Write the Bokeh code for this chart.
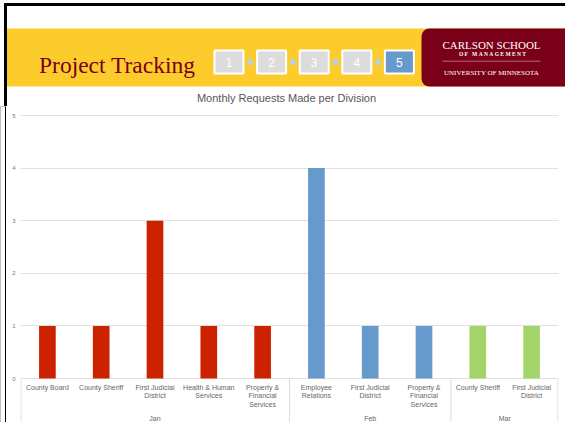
from bokeh.plotting import figure
from bokeh.models import FactorRange, Range1d, FixedTicker, ColumnDataSource, BoxAnnotation
from bokeh.layouts import column, row
from bokeh.core.properties import value
from bokeh.embed import file_html
from bokeh.resources import INLINE

# ---------------- data ----------------
months = ["Jan", "Jan", "Jan", "Jan", "Jan", "Feb", "Feb", "Feb", "Mar", "Mar"]
divisions = ["County Board", "County Sheriff", "First Judicial District",
             "Health & Human Services", "Property & Financial Services",
             "Employee Relations", "First Judicial District",
             "Property & Financial Services", "County Sheriff",
             "First Judicial District"]
tick_labels = ["County Board", "County Sheriff", "First Judicial\nDistrict",
               "Health & Human\nServices", "Property &\nFinancial\nServices",
               "Employee\nRelations", "First Judicial\nDistrict",
               "Property &\nFinancial\nServices", "County Sheriff",
               "First Judicial\nDistrict"]
requests = [1, 1, 3, 1, 1, 4, 1, 1, 1, 1]
month_names = ["Jan", "Feb", "Mar"]
y_ticks = [0, 1, 2, 3, 4, 5]
steps = ["1", "2", "3", "4", "5"]
active_step = "5"
chart_title = "Monthly Requests Made per Division"
header_title = "Project Tracking"

# ---------------- styles ----------------
month_colors = {"Jan": "#cc2200", "Feb": "#6699cc", "Mar": "#a4d56a"}
MAROON = "#7a0019"
GOLD = "#fccc2c"
SANS = value("Liberation Sans")
SERIF = value("Liberation Serif")

W = 565
H = 426
SPLIT = 106            # page row where header ends and chart begins
BOTTOM = 422           # page row where chart ends and bottom frame strip begins
LEFT_STRIP = 6
HEADER_H = SPLIT
CHART_H = BOTTOM - SPLIT
BOTTOM_H = H - BOTTOM

# ---------------- header ----------------
def hy(v):
    # header is laid out in page pixel rows (downwards); convert to upward coordinate
    return 200 - v

hdr = figure(width=W, height=HEADER_H, x_range=Range1d(0, W), y_range=Range1d(hy(SPLIT), hy(0)),
             toolbar_location=None, output_backend="svg", min_border=0,
             x_axis_location=None, y_axis_location=None, outline_line_color=None,
             background_fill_color="white", border_fill_color="white")
hdr.grid.visible = False

# gold band and maroon logo block (underlay, so texts draw above them)
hdr.add_layout(BoxAnnotation(left=6, right=W, top=hy(28), bottom=hy(86),
                             fill_color=GOLD, fill_alpha=1, line_color=None, level="underlay"))
hdr.add_layout(BoxAnnotation(left=421, right=W, top=hy(28), bottom=hy(86),
                             fill_color=MAROON, fill_alpha=1, line_color=None, level="underlay",
                             border_radius=(8, 0, 0, 8)))
# frame borders
hdr.quad(left=4, right=W, top=hy(3), bottom=hy(5), color="black")
hdr.quad(left=4, right=6, top=hy(3), bottom=hy(SPLIT), color="black")

hdr.text(x=[38.5], y=[hy(64)], text=[header_title], text_font=SERIF, text_font_size="23.5px",
         text_color=MAROON, text_align="left", text_baseline="middle")

# step boxes
step_x = [228.5 + i * 42.6 for i in range(len(steps))]
step_fill = ["#6699cc" if s == active_step else "#dcdcdc" for s in steps]
hdr.rect(x=step_x, y=hy(61.6), width=29, height=23, fill_color=step_fill,
         line_color="white", line_width=2)
hdr.text(x=step_x, y=hy(61.8), text=steps, text_font=SANS, text_font_size="12px",
         text_color="white", text_align="center", text_baseline="middle")
conn_x = [x + 21.3 for x in step_x[:-1]]
hdr.rect(x=conn_x, y=hy(61.6), width=5, height=6, fill_color="#b9cfe8", line_color=None)

# logo texts
NB = "\u00a0"
of_mgmt = (NB * 3).join(NB.join(word) for word in ["OF", "MANAGEMENT"])
hdr.text(x=[491], y=[hy(44.6)], text=["CARLSON SCHOOL"], text_font=SERIF, text_font_size="11px",
         text_color="white", text_align="center", text_baseline="middle")
hdr.text(x=[492], y=[hy(53.6)], text=[of_mgmt], text_font=SERIF,
         text_font_size="5.5px", text_font_style="bold",
         text_color="white", text_align="center", text_baseline="middle")
hdr.segment(x0=[442], y0=[hy(60.7)], x1=[540], y1=[hy(60.7)], line_color="#b56a78", line_width=1)
hdr.text(x=[491], y=[hy(72.6)], text=["UNIVERSITY OF MINNESOTA"], text_font=SERIF,
         text_font_size="7px", text_color="white", text_align="center",
         text_baseline="middle")

# chart title
hdr.text(x=[286], y=[hy(97.3)], text=[chart_title], text_align="center",
         text_baseline="middle", text_font=SANS, text_font_size="11px",
         text_color="#555555")

# ---------------- left border strip ----------------
strip = figure(width=LEFT_STRIP, height=CHART_H, x_range=Range1d(0, LEFT_STRIP), y_range=Range1d(0, 1),
               toolbar_location=None, output_backend="svg",
               min_border=0, x_axis_location=None, y_axis_location=None,
               background_fill_color="black", border_fill_color="black",
               outline_line_color=None)
strip.grid.visible = False
strip.quad(left=-1, right=4, bottom=-1, top=2, color="white")

# ---------------- bottom border strip ----------------
bot = figure(width=W, height=BOTTOM_H, x_range=Range1d(0, W), y_range=Range1d(0, BOTTOM_H),
             toolbar_location=None, output_backend="svg",
             min_border=0, x_axis_location=None, y_axis_location=None,
             background_fill_color="#3a3a3a", border_fill_color="#3a3a3a",
             outline_line_color=None)
bot.grid.visible = False
bot.quad(left=-1, right=4, bottom=-1, top=BOTTOM_H + 1, color="white")
bot.quad(left=-1, right=W + 1, bottom=-1, top=BOTTOM_H - 2, color="#f4f4f4")

# ---------------- chart ----------------
factors = list(zip(months, divisions))
x_range = FactorRange(*factors, group_padding=0, factor_padding=0, range_padding=0)

ZERO_PX = 378.0
UNIT_PX = 52.6
y_range = Range1d((ZERO_PX - BOTTOM) / UNIT_PX, (ZERO_PX - SPLIT) / UNIT_PX)

p = figure(width=W - LEFT_STRIP, height=CHART_H, x_range=x_range, y_range=y_range,
           toolbar_location=None, output_backend="svg",
           min_border_left=14, min_border_right=7, min_border_top=0, min_border_bottom=0,
           x_axis_location=None, outline_line_color=None)
p.extra_y_ranges = {"py": Range1d(BOTTOM, SPLIT)}

p.xgrid.visible = False
p.ygrid.ticker = FixedTicker(ticks=y_ticks)
p.ygrid.grid_line_color = "#e0e0e0"
p.ygrid.grid_line_width = 1

p.yaxis.ticker = FixedTicker(ticks=y_ticks)
p.yaxis.axis_line_color = None
p.yaxis.major_tick_line_color = None
p.yaxis.minor_tick_line_color = None
p.yaxis.major_tick_out = 0
p.yaxis.major_tick_in = 0
p.yaxis.minor_tick_out = 0
p.yaxis.major_label_text_font = "Liberation Sans"
p.yaxis.major_label_text_font_size = "6px"
p.yaxis.major_label_text_color = "#777777"
p.yaxis.major_label_standoff = 5

src = ColumnDataSource(dict(
    x=factors,
    top=requests,
    label=tick_labels,
    color=[month_colors[m] for m in months],
))
p.vbar(x="x", top="top", width=0.31, fill_color="color", line_color=None, source=src)

# category labels
p.text(x="x", y=383.5, text="label", y_range_name="py", source=src,
       text_align="center", text_baseline="top", text_font=SANS,
       text_font_size="7px", text_color="#666666", text_line_height=1.2)
# month labels
p.text(x=month_names, y=[417.5] * len(month_names), text=month_names, y_range_name="py",
       text_align="center", text_baseline="middle", text_font=SANS,
       text_font_size="7px", text_color="#666666")
# group separators
sep_x = []
for i, m in enumerate(month_names):
    first = factors[months.index(m)]
    sep_x.append((first[0], first[1], -0.49 if i == 0 else -0.5))
last = factors[-1]
sep_x.append((last[0], last[1], 0.49))
p.segment(x0=sep_x, y0=[ZERO_PX] * len(sep_x), x1=sep_x, y1=[BOTTOM] * len(sep_x),
          y_range_name="py", line_color="#dddddd", line_width=1)

layout = column(hdr, row(strip, p), bot)
open("out.html", "w").write(file_html(layout, INLINE))
